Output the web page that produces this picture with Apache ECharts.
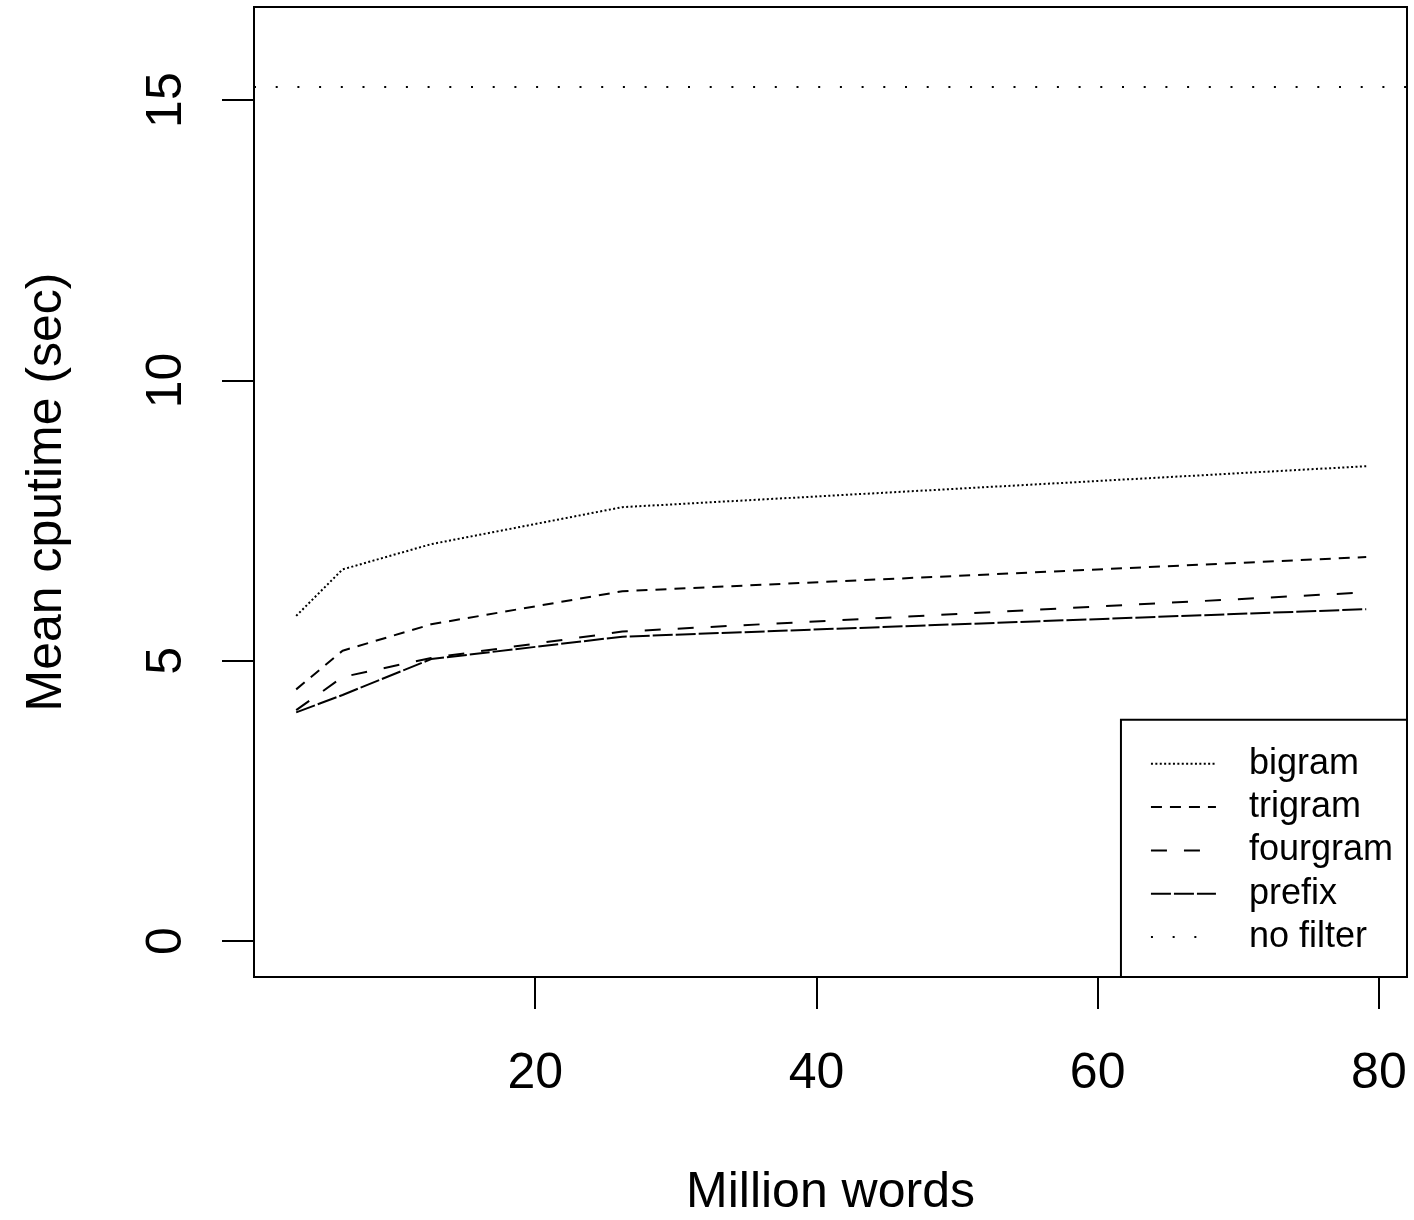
<!DOCTYPE html>
<html>
<head>
<meta charset="utf-8">
<script src="https://cdn.jsdelivr.net/npm/echarts@6/dist/echarts.min.js"></script>
<style>
  html, body { margin: 0; padding: 0; background: #fff; }
  #chart { width: 1414px; height: 1220px; }
</style>
</head>
<body>
<div id="chart"></div>
<script>
// Corpus size (million words) at which each filter was timed
const words = [3.0, 6.3, 12.6, 26.2, 79.1];

// Mean CPU time (seconds) per filter
const bigram   = [5.80, 6.63, 7.08, 7.74, 8.47];
const trigram  = [4.49, 5.18, 5.65, 6.24, 6.85];
const fourgram = [4.12, 4.71, 5.05, 5.52, 6.22];
const prefix   = [4.08, 4.39, 5.03, 5.43, 5.92];
const noFilter = 15.24;

// Tick positions
const xTicks = [20, 40, 60, 80];
const yTicks = [0, 5, 10, 15];

const FONT = "'Liberation Sans', Arial, Helvetica, sans-serif";

function pairs(ys) {
  return words.map((x, i) => [x, ys[i]]);
}

function lineSeries(name, ys, dash) {
  return {
    name: name,
    type: 'line',
    data: pairs(ys),
    symbol: 'none',
    silent: true,
    itemStyle: { color: '#000' },
    lineStyle: { color: '#000', width: 2, type: dash, cap: 'butt' }
  };
}

const chart = echarts.init(document.getElementById('chart'), null, { renderer: 'canvas' });

chart.setOption({
  animation: false,
  backgroundColor: '#fff',
  grid: {
    left: 254, top: 7, width: 1153, height: 970,
    outerBoundsMode: 'none',
    containLabel: false,
    show: true, borderColor: '#000', borderWidth: 2, backgroundColor: 'transparent'
  },
  xAxis: {
    type: 'value',
    min: 0, max: 82,
    name: 'Million words',
    nameLocation: 'middle',
    nameGap: 191,
    nameTextStyle: { fontSize: 50, fontFamily: FONT, color: '#000' },
    axisLine: { show: false, onZero: false },
    splitLine: { show: false },
    axisTick: {
      show: true, length: 32, inside: false,
      customValues: xTicks,
      lineStyle: { color: '#000', width: 2 }
    },
    axisLabel: {
      customValues: xTicks,
      margin: 72,
      fontSize: 50, fontFamily: FONT, color: '#000'
    }
  },
  yAxis: {
    type: 'value',
    min: -0.64, max: 16.66,
    name: 'Mean cputime (sec)',
    nameLocation: 'middle',
    nameGap: 182,
    nameRotate: 90,
    nameTextStyle: { fontSize: 50, fontFamily: FONT, color: '#000' },
    axisLine: { show: false, onZero: false },
    splitLine: { show: false },
    axisTick: {
      show: true, length: 32, inside: false,
      customValues: yTicks,
      lineStyle: { color: '#000', width: 2 }
    },
    axisLabel: {
      customValues: yTicks,
      rotate: 90,
      margin: 62,
      fontSize: 50, fontFamily: FONT, color: '#000'
    }
  },
  legend: {
    orient: 'vertical',
    right: 7, bottom: 243,
    itemWidth: 65, itemHeight: 20, itemGap: 7.3,
    padding: [26, 14, 22, 29],
    borderColor: '#000', borderWidth: 2, borderRadius: 0,
    backgroundColor: '#fff',
    selectedMode: false,
    itemStyle: { color: 'transparent', borderWidth: 0, opacity: 0 },
    textStyle: {
      fontSize: 36, fontFamily: FONT, color: '#000',
      lineHeight: 36, padding: [0, 0, 0, 28]
    },
    data: ['bigram', 'trigram', 'fourgram', 'prefix', 'no filter']
  },
  series: [
    lineSeries('bigram', bigram, [2, 2.4]),
    lineSeries('trigram', trigram, [11, 8]),
    lineSeries('fourgram', fourgram, [16, 17]),
    lineSeries('prefix', prefix, [20, 3]),
    {
      name: 'no filter',
      type: 'line',
      data: [],
      symbol: 'none',
      silent: true,
      itemStyle: { color: '#000' },
      lineStyle: { color: '#000', width: 2, type: [2, 19.7], cap: 'butt' },
      markLine: {
        silent: true,
        symbol: 'none',
        label: { show: false },
        lineStyle: { color: '#000', width: 2, type: [2, 19.7], cap: 'butt' },
        data: [{ yAxis: noFilter }]
      }
    }
  ]
});
</script>
</body>
</html>
